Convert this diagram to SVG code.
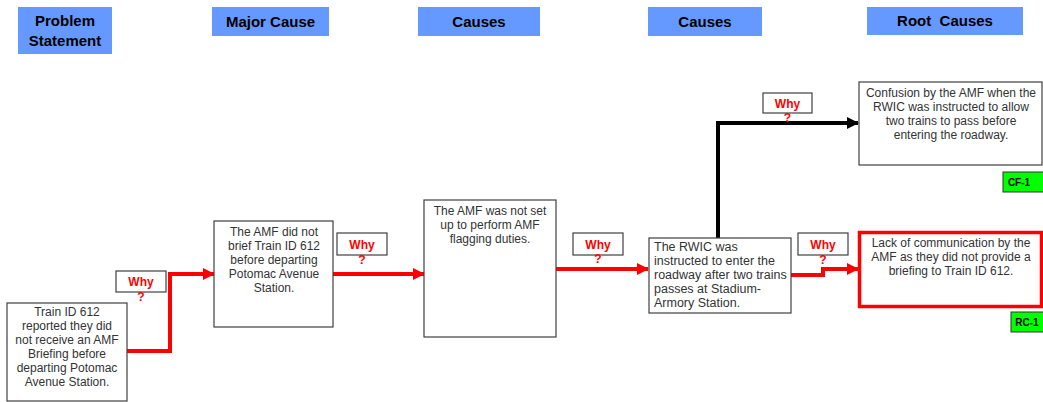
<svg xmlns="http://www.w3.org/2000/svg" width="1043" height="402" viewBox="0 0 1043 402">
  <defs>
    <marker id="ahRed" markerWidth="12" markerHeight="12" viewBox="0 0 12 12" refX="11" refY="6" orient="auto" markerUnits="userSpaceOnUse">
      <path d="M0,0 L12,6 L0,12 Z" fill="#FF0000"/>
    </marker>
    <marker id="ahBlack" markerWidth="12" markerHeight="12" viewBox="0 0 12 12" refX="11" refY="6" orient="auto" markerUnits="userSpaceOnUse">
      <path d="M0,0 L12,6 L0,12 Z" fill="#000000"/>
    </marker>
  </defs>
  <style>
    .hdr { fill: #6699FF; }
    .hdrText { font-family: "Liberation Sans", Arial, sans-serif; font-weight: bold; font-size: 15px; fill: #000; text-anchor: middle; }
    .box { fill: #FFFFFF; stroke: #404040; stroke-width: 1.2; }
    .boxText { font-family: "Liberation Sans", Arial, sans-serif; font-size: 12px; fill: #333333; text-anchor: middle; }
    .boxTextL { font-family: "Liberation Sans", Arial, sans-serif; font-size: 12.5px; fill: #333333; }
    .why { fill: #FFFFFF; stroke: #404040; stroke-width: 1.2; }
    .whyText { font-family: "Liberation Sans", Arial, sans-serif; font-weight: bold; font-size: 12px; fill: #FF0000; text-anchor: middle; }
    .tag { fill: #00FF00; stroke: #333333; stroke-width: 1; }
    .tagText { font-family: "Liberation Sans Narrow", "Liberation Sans", Arial, sans-serif; font-weight: bold; font-size: 10px; fill: #000; text-anchor: middle; }
    .redLink { fill: none; stroke: #FF0000; stroke-width: 4; marker-end: url(#ahRed); }
    .blackLink { fill: none; stroke: #000000; stroke-width: 4; marker-end: url(#ahBlack); }
  </style>

  <!-- column headers -->
  <g id="headers">
    <rect class="hdr" x="18" y="7" width="94" height="47"/>
    <text class="hdrText" x="65" y="26">Problem</text>
    <text class="hdrText" x="65" y="46">Statement</text>
    <rect class="hdr" x="212" y="7" width="117" height="29"/>
    <text class="hdrText" x="270.5" y="27">Major Cause</text>
    <rect class="hdr" x="418" y="7" width="122" height="29"/>
    <text class="hdrText" x="479" y="27">Causes</text>
    <rect class="hdr" x="648" y="7" width="114" height="29"/>
    <text class="hdrText" x="705" y="27">Causes</text>
    <rect class="hdr" x="867" y="7" width="156" height="28"/>
    <text class="hdrText" x="945" y="26" xml:space="preserve">Root  Causes</text>
  </g>

  <!-- connectors -->
  <g id="connectors">
    <polyline class="redLink" points="127,351 170,351 170,274 214,274"/>
    <polyline class="redLink" points="333,274 424,274"/>
    <polyline class="redLink" points="556,269 648,269"/>
    <polyline class="blackLink" points="718,238 718,123 858,123"/>
    <polyline class="redLink" points="791,275 823,275 823,269 858,269"/>
  </g>

  <!-- why labels -->
  <g id="why1">
    <rect class="why" x="116" y="271" width="50" height="21"/>
    <text class="whyText" x="141" y="286">Why</text>
    <text class="whyText" x="141" y="301">?</text>
  </g>
  <g id="why2">
    <rect class="why" x="337" y="233" width="50" height="22"/>
    <text class="whyText" x="362" y="249">Why</text>
    <text class="whyText" x="362" y="264">?</text>
  </g>
  <g id="why3">
    <rect class="why" x="573" y="233" width="50" height="22"/>
    <text class="whyText" x="598" y="249">Why</text>
    <text class="whyText" x="598" y="263">?</text>
  </g>
  <g id="why4">
    <rect class="why" x="763" y="93" width="49" height="20"/>
    <text class="whyText" x="787.5" y="108">Why</text>
    <text class="whyText" x="787.5" y="122">?</text>
  </g>
  <g id="why5">
    <rect class="why" x="798" y="233" width="50" height="22"/>
    <text class="whyText" x="823" y="249">Why</text>
    <text class="whyText" x="823" y="264">?</text>
  </g>

  <!-- problem statement -->
  <g id="problem">
    <rect class="box" x="7" y="303" width="120" height="98"/>
    <text class="boxText" x="67" y="316">Train ID 612</text>
    <text class="boxText" x="67" y="330">reported they did</text>
    <text class="boxText" x="67" y="344">not receive an AMF</text>
    <text class="boxText" x="67" y="358">Briefing before</text>
    <text class="boxText" x="67" y="372">departing Potomac</text>
    <text class="boxText" x="67" y="386">Avenue Station.</text>
  </g>

  <!-- major cause -->
  <g id="majorCause">
    <rect class="box" x="214" y="221" width="119" height="106"/>
    <text class="boxText" x="274" y="236">The AMF did not</text>
    <text class="boxText" x="274" y="250">brief Train ID 612</text>
    <text class="boxText" x="274" y="264">before departing</text>
    <text class="boxText" x="274" y="278">Potomac Avenue</text>
    <text class="boxText" x="274" y="292">Station.</text>
  </g>

  <!-- cause 1 -->
  <g id="cause1">
    <rect class="box" x="424" y="200" width="132" height="137"/>
    <text class="boxText" x="490" y="215">The AMF was not set</text>
    <text class="boxText" x="490" y="229">up to perform AMF</text>
    <text class="boxText" x="490" y="243">flagging duties.</text>
  </g>

  <!-- cause 2 -->
  <g id="cause2">
    <rect class="box" x="649" y="238" width="142" height="75"/>
    <text class="boxTextL" x="654" y="251">The RWIC was</text>
    <text class="boxTextL" x="654" y="265">instructed to enter the</text>
    <text class="boxTextL" x="654" y="279">roadway after two trains</text>
    <text class="boxTextL" x="654" y="293">passes at Stadium-</text>
    <text class="boxTextL" x="654" y="307">Armory Station.</text>
  </g>

  <!-- contributing factor -->
  <g id="contributingFactor">
    <rect class="box" x="859" y="82" width="183" height="83"/>
    <text class="boxText" x="951" y="97">Confusion by the AMF when the</text>
    <text class="boxText" x="951" y="111">RWIC was instructed to allow</text>
    <text class="boxText" x="951" y="125">two trains to pass before</text>
    <text class="boxText" x="951" y="139">entering the roadway.</text>
  </g>
  <g id="tagCF1">
    <rect class="tag" x="1003" y="172" width="42" height="20"/>
    <text class="tagText" x="1019" y="186">CF-1</text>
  </g>

  <!-- root cause -->
  <g id="rootCause">
    <rect x="859.5" y="232.5" width="182" height="74" fill="#FFFFFF" stroke="#FF0000" stroke-width="3.5"/>
    <text class="boxText" x="951" y="247">Lack of communication by the</text>
    <text class="boxText" x="951" y="261">AMF as they did not provide a</text>
    <text class="boxText" x="951" y="275">briefing to Train ID 612.</text>
  </g>
  <g id="tagRC1">
    <rect class="tag" x="1011" y="312" width="34" height="20"/>
    <text class="tagText" x="1027" y="326">RC-1</text>
  </g>
</svg>
